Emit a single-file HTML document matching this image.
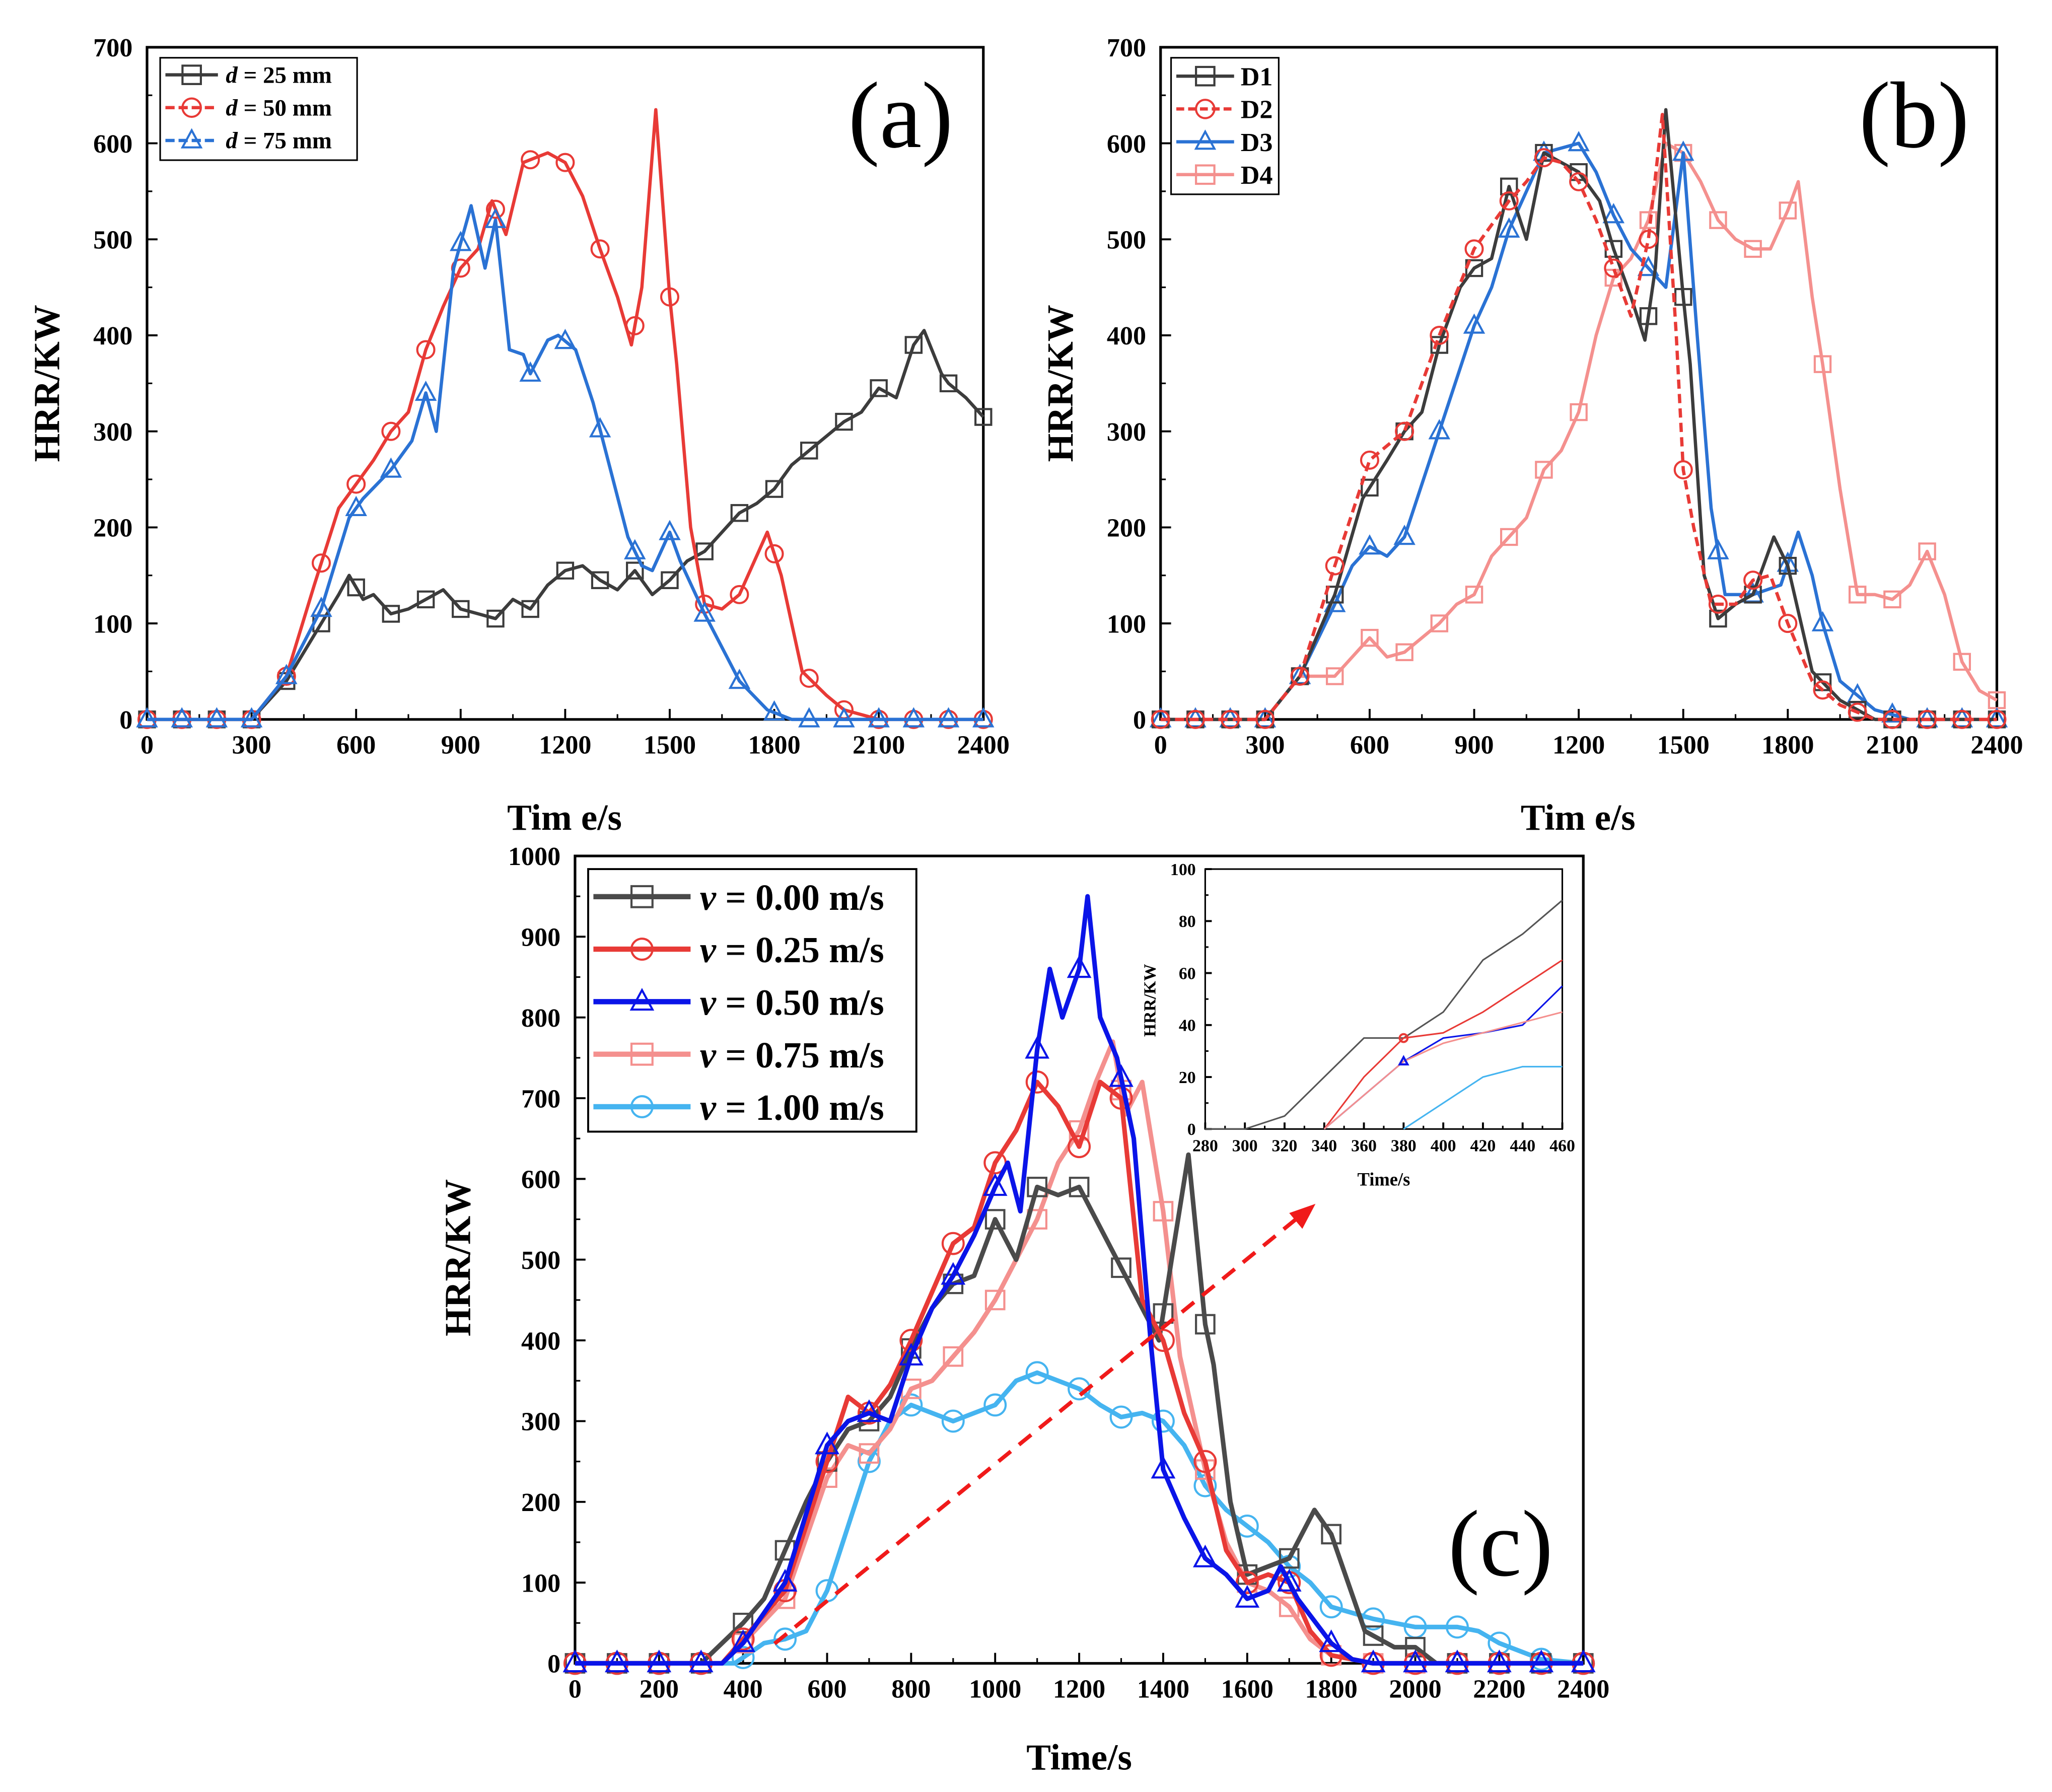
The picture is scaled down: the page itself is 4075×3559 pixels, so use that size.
<!DOCTYPE html>
<html><head><meta charset="utf-8"><style>
html,body{margin:0;padding:0;background:#fff;}
svg{display:block;font-family:"Liberation Serif",serif;font-weight:bold;}
</style></head><body>
<svg id="fig" width="4075" height="3559" viewBox="0 0 1563 1365" preserveAspectRatio="none" xmlns="http://www.w3.org/2000/svg"></svg>
<script>
// ---- panel (a) data ----
const aTimes25=[0,300,350,400,500,550,580,620,650,700,750,800,850,900,950,1000,1050,1100,1150,1200,1250,1300,1350,1400,1450,1500,1550,1600,1650,1700,1750,1800,1850,1900,1950,2000,2050,2100,2150,2200,2230,2280,2300,2350,2400];
const aHrr25=[0,0,20,40,100,130,150,125,130,110,115,125,135,115,110,105,125,115,140,155,160,145,135,155,130,145,165,175,195,215,225,240,265,280,295,310,320,345,335,390,405,360,350,335,315];
const aTimes50=[0,300,400,480,550,600,650,700,750,800,850,900,950,990,1030,1080,1150,1200,1250,1300,1350,1390,1420,1460,1500,1520,1560,1600,1650,1700,1780,1820,1880,1950,2000,2100,2400];
const aHrr50=[0,0,45,140,220,245,270,300,320,385,430,470,490,540,505,580,590,580,545,490,440,390,450,635,440,370,200,120,115,130,195,150,50,25,10,0,0];
const aTimes75=[0,300,400,500,580,620,700,760,800,830,880,930,970,1000,1040,1080,1100,1150,1180,1230,1280,1330,1380,1420,1450,1500,1530,1600,1700,1780,1850,2400];
const aHrr75=[0,0,45,115,210,230,260,290,340,300,470,535,470,520,385,380,360,395,400,385,330,260,190,160,155,195,165,110,40,10,0,0];
// ---- panel (b) data ----
const bTimesD1=[0,300,400,500,580,650,700,750,800,860,900,950,1000,1050,1100,1200,1260,1300,1350,1390,1420,1450,1500,1520,1560,1600,1650,1700,1760,1800,1870,1950,2050,2400];
const bHrrD1=[0,0,45,130,230,270,300,320,390,450,470,480,555,500,590,570,540,490,440,395,470,635,440,370,150,105,120,130,190,160,50,20,0,0];
const bTimesD2=[0,300,400,500,600,650,700,800,900,1000,1050,1100,1150,1200,1250,1300,1350,1400,1440,1480,1500,1530,1580,1650,1700,1750,1800,1870,1950,2050,2400];
const bHrrD2=[0,0,45,160,270,285,300,400,490,540,560,585,580,560,520,470,420,500,630,400,260,200,120,120,145,150,100,40,15,0,0];
const bTimesD3=[0,300,400,500,550,600,650,700,800,900,950,1000,1050,1100,1150,1200,1250,1300,1350,1400,1450,1500,1540,1580,1620,1700,1780,1830,1870,1900,1950,2050,2150,2400];
const bHrrD3=[0,0,45,120,160,180,170,190,300,410,450,510,550,590,595,600,570,525,490,470,450,590,400,220,130,130,140,195,150,100,40,10,0,0];
const bTimesD4=[0,300,400,500,600,650,700,800,850,900,950,1000,1050,1100,1150,1200,1250,1300,1350,1400,1450,1500,1550,1600,1650,1700,1750,1800,1830,1870,1900,1950,2000,2050,2100,2150,2200,2250,2300,2350,2400];
const bHrrD4=[0,0,45,45,85,65,70,100,120,130,170,190,210,260,280,320,400,460,480,520,600,590,560,520,500,490,490,530,560,440,370,240,130,130,125,140,175,130,60,30,20];
// ---- panel (c) data ----
const cTimes0=[0,300,400,450,500,550,600,650,700,750,800,850,900,950,1000,1050,1100,1150,1200,1250,1300,1350,1390,1420,1460,1500,1520,1560,1600,1650,1700,1760,1800,1880,1950,2000,2050,2400];
const cHrr0=[0,0,50,80,140,200,250,290,300,330,390,440,470,480,550,500,590,580,590,540,490,440,400,500,630,420,370,200,110,120,130,190,160,40,20,20,0,0];
const cTimes25=[0,350,400,500,600,650,700,750,800,900,950,1000,1050,1100,1150,1200,1250,1300,1350,1400,1450,1500,1550,1600,1650,1700,1750,1800,1900,2400];
const cHrr25=[0,0,30,90,250,330,310,345,400,520,540,620,660,720,690,640,720,700,450,400,310,250,140,100,110,100,40,10,0,0];
const cTimes50=[0,350,400,500,600,650,700,750,800,850,900,950,1000,1030,1060,1100,1130,1160,1200,1220,1250,1290,1330,1370,1400,1450,1500,1550,1600,1650,1680,1720,1800,1850,1900,2400];
const cHrr50=[0,0,25,100,270,300,310,300,380,440,480,530,590,620,560,760,860,800,860,950,800,750,650,400,240,180,130,110,80,90,120,80,25,5,0,0];
const cTimes75=[0,350,400,500,600,650,700,750,800,850,900,950,1000,1050,1100,1150,1200,1240,1280,1310,1350,1400,1440,1500,1550,1600,1650,1700,1750,1800,1900,2400];
const cHrr75=[0,0,25,80,230,270,260,290,340,350,380,410,450,500,550,620,660,720,770,680,720,560,380,240,150,100,90,70,30,10,0,0];
const cTimes100=[0,380,450,500,550,600,650,700,750,800,850,900,950,1000,1050,1100,1150,1200,1250,1300,1350,1400,1450,1500,1550,1600,1650,1700,1750,1800,1900,2000,2100,2150,2200,2250,2300,2400];
const cHrr100=[0,0,25,30,40,90,170,250,300,320,310,300,310,320,350,360,350,340,320,305,310,300,270,220,190,170,150,120,100,70,55,45,45,40,25,15,5,0];
// ---- inset data ----
const iTimes0=[280,300,320,340,360,380,400,420,440,460];
const iHrr0=[0,0,5,20,35,35,45,65,75,88];
const iTimes25=[340,360,380,400,420,440,460];
const iHrr25=[0,20,35,37,45,55,65];
const iTimes50=[340,380,400,420,440,460];
const iHrr50=[0,26,35,37,40,55];
const iTimes75=[340,380,400,420,440,460];
const iHrr75=[0,26,33,37,41,45];
const iTimes100=[380,400,420,440,460];
const iHrr100=[0,10,20,24,24];
// ticks
const xTicksAB=[0,300,600,900,1200,1500,1800,2100,2400];
const yTicksAB=[0,100,200,300,400,500,600,700];
const xTicksC=[0,200,400,600,800,1000,1200,1400,1600,1800,2000,2200,2400];
const yTicksC=[0,100,200,300,400,500,600,700,800,900,1000];
const xTicksI=[280,300,320,340,360,380,400,420,440,460];
const yTicksI=[0,20,40,60,80,100];

const NS="http://www.w3.org/2000/svg";
const svg=document.getElementById('fig');
function mk(tag,attrs,parent){const e=document.createElementNS(NS,tag);for(const k in attrs)e.setAttribute(k,attrs[k]);(parent||svg).appendChild(e);return e;}
function interp(ts,vs,t){if(t<=ts[0])return vs[0];for(let i=1;i<ts.length;i++){if(t<=ts[i]){const f=(t-ts[i-1])/(ts[i]-ts[i-1]);return vs[i-1]+f*(vs[i]-vs[i-1]);}}return vs[vs.length-1];}
function marker(g,type,x,y,color,s){
  let e;
  if(type==='sq'){e=mk('rect',{x:x-s,y:y-s,width:2*s,height:2*s,fill:'none',stroke:color,'stroke-width':1.6},g);}
  else if(type==='ci'){e=mk('circle',{cx:x,cy:y,r:s,fill:'none',stroke:color,'stroke-width':1.6},g);}
  else {e=mk('polygon',{points:`${x},${y-s*1.1} ${x-s},${y+s*0.75} ${x+s},${y+s*0.75}`,fill:'none',stroke:color,'stroke-width':1.6},g);}
  
  
}
function makeAxes(P){
  const g=mk('g',{});
  
  
  P.sx=t=>P.x0+(t-P.xmin)/(P.xmax-P.xmin)*(P.x1-P.x0);
  P.sy=v=>P.y1-(v-P.ymin)/(P.ymax-P.ymin)*(P.y1-P.y0);
  const box=mk('rect',{x:P.x0,y:P.y0,width:P.x1-P.x0,height:P.y1-P.y0,fill:'none',stroke:'#000','stroke-width':P.bw},g);
  
  
  P.xt.forEach((t,i)=>{const x=P.sx(t);
    mk('line',{x1:x,y1:P.y1,x2:x,y2:P.y1-P.tl,stroke:'#000','stroke-width':1.5},g);
    if(i<P.xt.length-1){const xm=P.sx((t+P.xt[i+1])/2);mk('line',{x1:xm,y1:P.y1,x2:xm,y2:P.y1-P.tl/2,stroke:'#000','stroke-width':1.2},g);}
    const tx=mk('text',{x:x,y:P.y1+P.fs*1.3,'font-size':P.fs,'text-anchor':'middle'},g);tx.textContent=t;
    
    
  });
  P.yt.forEach((v,i)=>{const y=P.sy(v);
    mk('line',{x1:P.x0,y1:y,x2:P.x0+P.tl,y2:y,stroke:'#000','stroke-width':1.5},g);
    if(i<P.yt.length-1){const ym=P.sy((v+P.yt[i+1])/2);mk('line',{x1:P.x0,y1:ym,x2:P.x0+P.tl/2,y2:ym,stroke:'#000','stroke-width':1.2},g);}
    const tx=mk('text',{x:P.x0-P.fs*0.55,y:y+P.fs*0.35,'font-size':P.fs,'text-anchor':'end'},g);tx.textContent=v;
    
    
  });
  return g;
}
function series(P,g,ts,vs,color,w,mtype,ms,dash,step,name){
  const pts=ts.map((t,i)=>P.sx(t)+','+P.sy(vs[i])).join(' ');
  const pl=mk('polyline',{points:pts,fill:'none',stroke:color,'stroke-width':w,'stroke-linejoin':'round','stroke-dasharray':dash||'none'},g);
  
  
  if(mtype){for(let t=P.xmin;t<=P.xmax;t+=step){marker(g,mtype,P.sx(t),P.sy(interp(ts,vs,t)),color,ms);}}
}
function label(txt,x,y,fs,rot,name,weight){
  const t=mk('text',{x:x,y:y,'font-size':fs,'text-anchor':'middle','font-weight':weight||'bold',transform:rot?`rotate(-90 ${x} ${y})`:''});
  t.textContent=txt;
  
  
  return t;
}
const BLK='#3c3c3c',RED='#e83a36',BLU='#2a72d4',PNK='#f4908e',LBL='#45b4f0',DBL='#0a14e8';

// Panel a
const PA={name:'panel-a',x0:112,x1:749,y0:36,y1:548,xmin:0,xmax:2400,ymin:0,ymax:700,xt:xTicksAB,yt:yTicksAB,fs:20,tl:8,bw:2};
const ga=makeAxes(PA);
series(PA,ga,aTimes25,aHrr25,BLK,2.5,'sq',6,null,100,'series-d25');
series(PA,ga,aTimes50,aHrr50,RED,2.5,'ci',6.5,null,100,'series-d50');
series(PA,ga,aTimes75,aHrr75,BLU,2.5,'tr',7,null,100,'series-d75');
label('HRR/KW',45,292,28,true,'y-axis-title-a');
label('Tim e/s',430,632,28,false,'x-axis-title-a');
label('(a)',686,112,72,false,'panel-label-a','normal');
{const lg=mk('g',{});
 mk('rect',{x:122,y:44,width:150,height:78,fill:'#fff',stroke:'#000','stroke-width':1.2},lg);
 [['25',BLK,'sq'],['50',RED,'ci'],['75',BLU,'tr']].forEach((r,i)=>{const y=57+i*25;
  mk('line',{x1:126,y1:y,x2:166,y2:y,stroke:r[1],'stroke-width':2.5,'stroke-dasharray':i==0?'none':'7 3'},lg);
  marker(lg,r[2],146,y,r[1],7);
  const t=mk('text',{x:172,y:y+6,'font-size':18},lg);t.innerHTML='<tspan font-style="italic">d</tspan> = '+r[0]+' mm';
  });}

// Panel b
const PB={name:'panel-b',x0:884,x1:1521,y0:36,y1:548,xmin:0,xmax:2400,ymin:0,ymax:700,xt:xTicksAB,yt:yTicksAB,fs:20,tl:8,bw:2};
const gb=makeAxes(PB);
series(PB,gb,bTimesD4,bHrrD4,PNK,2.5,'sq',6,null,100,'series-d4');
series(PB,gb,bTimesD3,bHrrD3,BLU,2.5,'tr',7,null,100,'series-d3');
series(PB,gb,bTimesD1,bHrrD1,BLK,2.5,'sq',6,null,100,'series-d1');
series(PB,gb,bTimesD2,bHrrD2,RED,2.5,'ci',6.5,'7 4',100,'series-d2');
label('HRR/KW',817,292,28,true,'y-axis-title-b');
label('Tim e/s',1202,632,28,false,'x-axis-title-b');
label('(b)',1458,112,72,false,'panel-label-b','normal');
{const lg=mk('g',{});
 mk('rect',{x:892,y:44,width:82,height:104,fill:'#fff',stroke:'#000','stroke-width':1.2},lg);
 [['D1',BLK,'sq'],['D2',RED,'ci'],['D3',BLU,'tr'],['D4',PNK,'sq']].forEach((r,i)=>{const y=58+i*25;
  mk('line',{x1:896,y1:y,x2:940,y2:y,stroke:r[1],'stroke-width':2.5,'stroke-dasharray':i==1?'6 3':'none'},lg);
  marker(lg,r[2],918,y,r[1],7);
  const t=mk('text',{x:945,y:y+7,'font-size':20},lg);t.textContent=r[0];
  });}

// Panel c
const PC={name:'panel-c',x0:438,x1:1206,y0:652,y1:1267,xmin:0,xmax:2400,ymin:0,ymax:1000,xt:xTicksC,yt:yTicksC,fs:20,tl:8,bw:2};
const gc=makeAxes(PC);
series(PC,gc,cTimes100,cHrr100,LBL,3.5,'ci',8,null,100,'series-v100');
series(PC,gc,cTimes75,cHrr75,PNK,3.5,'sq',7,null,100,'series-v075');
series(PC,gc,cTimes0,cHrr0,'#4a4a4a',3.5,'sq',7,null,100,'series-v000');
series(PC,gc,cTimes25,cHrr25,RED,3.5,'ci',8,null,100,'series-v025');
series(PC,gc,cTimes50,cHrr50,DBL,3.5,'tr',8,null,100,'series-v050');
label('HRR/KW',358,958,28,true,'y-axis-title-c');
label('Time/s',822,1348,28,false,'x-axis-title-c');
label('(c)',1143,1200,72,false,'panel-label-c','normal');
{const ar=mk('line',{x1:590,y1:1252,x2:988,y2:928,stroke:'#f01a1a','stroke-width':3,'stroke-dasharray':'12 8'});
 
 const ah=mk('polygon',{points:'1002,917 982,924 992,936',fill:'#f01a1a'});
 }
{const lg=mk('g',{});
 mk('rect',{x:448,y:662,width:250,height:200,fill:'#fff',stroke:'#000','stroke-width':1.5},lg);
 [['0.00','#4a4a4a','sq'],['0.25',RED,'ci'],['0.50',DBL,'tr'],['0.75',PNK,'sq'],['1.00',LBL,'ci']].forEach((r,i)=>{const y=683+i*40;
  mk('line',{x1:452,y1:y,x2:526,y2:y,stroke:r[1],'stroke-width':4},lg);
  marker(lg,r[2],489,y,r[1],8);
  const t=mk('text',{x:533,y:y+10,'font-size':28},lg);t.innerHTML='<tspan font-style="italic">v</tspan> = '+r[0]+' m/s';
  });}

// Inset
const PI={name:'inset',x0:918,x1:1190,y0:662,y1:860,xmin:280,xmax:460,ymin:0,ymax:100,xt:xTicksI,yt:yTicksI,fs:13,tl:5,bw:1.2};
const gi=makeAxes(PI);
series(PI,gi,iTimes0,iHrr0,'#555',1.2,null,0,null,0,'inset-v000');
series(PI,gi,iTimes25,iHrr25,RED,1.2,null,0,null,0,'inset-v025');
series(PI,gi,iTimes50,iHrr50,DBL,1.2,null,0,null,0,'inset-v050');
series(PI,gi,iTimes75,iHrr75,PNK,1.2,null,0,null,0,'inset-v075');
series(PI,gi,iTimes100,iHrr100,LBL,1.2,null,0,null,0,'inset-v100');
marker(gi,'ci',PI.sx(380),PI.sy(35),RED,3);
marker(gi,'tr',PI.sx(380),PI.sy(26),DBL,3);
label('HRR/KW',880,762,13,true,'inset-y-title');
label('Time/s',1054,903,14,false,'inset-x-title');
</script>
</body></html>
